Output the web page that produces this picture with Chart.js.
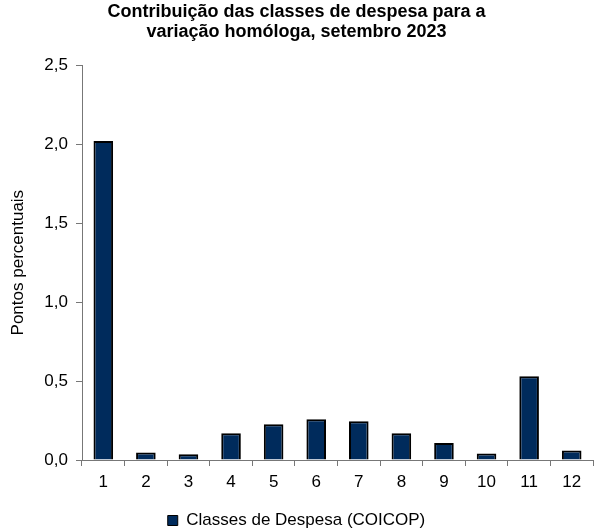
<!DOCTYPE html>
<html>
<head>
<meta charset="utf-8">
<script src="https://cdn.jsdelivr.net/npm/chart.js@4/dist/chart.umd.min.js"></script>
<style>
  html, body { margin: 0; padding: 0; background: #fff; }
  #wrap { width: 612px; height: 529px; }
</style>
</head>
<body>
<div id="wrap"><canvas id="chart" width="612" height="529"></canvas></div>
<script>
const CATEGORIES = ['1','2','3','4','5','6','7','8','9','10','11','12'];
const CONTRIB = [2.02, 0.048, 0.037, 0.17, 0.226, 0.258, 0.245, 0.17, 0.107, 0.041, 0.53, 0.06];
const Y_TICKS = [0, 0.5, 1.0, 1.5, 2.0, 2.5];

const FONT = "'Liberation Sans', Arial, sans-serif";
const NAVY = '#002b5c';

new Chart(document.getElementById('chart').getContext('2d'), {
  type: 'bar',
  data: {
    labels: CATEGORIES,
    datasets: [{
      label: 'Classes de Despesa (COICOP)',
      data: CONTRIB,
      backgroundColor: NAVY,
      borderColor: '#000',
      borderWidth: 2,
      barPercentage: 0.46,
      categoryPercentage: 1.0,
    }]
  },
  options: {
    responsive: false,
    animation: false,
    // legend keeps a 10px gap under itself; negative bottom padding pulls it down
    layout: { padding: { left: 0, right: 19, top: 2, bottom: -10 } },
    plugins: {
      title: {
        display: true,
        text: ['Contribuição das classes de despesa para a', 'variação homóloga, setembro 2023'],
        color: '#000',
        font: { family: FONT, size: 18, weight: 'bold', lineHeight: 1.12 },
        padding: { top: 0, bottom: 23 },
      },
      legend: {
        position: 'bottom',
        labels: {
          color: '#000',
          font: { family: FONT, size: 17 },
          boxWidth: 10,
          boxHeight: 10,
          padding: 0,
          generateLabels: chart => [{
            text: 'Classes de Despesa (COICOP)',
            fillStyle: NAVY,
            strokeStyle: '#000',
            lineWidth: 1,
            datasetIndex: 0,
          }]
        }
      },
      tooltip: { enabled: false }
    },
    scales: {
      x: {
        grid: { display: true, drawOnChartArea: false, drawTicks: true, tickLength: 6, color: '#777', offset: true },
        border: { display: true, color: '#777', width: 1 },
        ticks: { color: '#000', font: { family: FONT, size: 17 }, padding: 6 },
        afterFit: s => { s.height = 52; }
      },
      y: {
        min: 0,
        max: 2.5,
        afterBuildTicks: s => { s.ticks = Y_TICKS.map(v => ({ value: v })); },
        grid: { display: true, drawOnChartArea: false, drawTicks: true, tickLength: 6, color: '#777' },
        border: { display: true, color: '#777', width: 1 },
        ticks: {
          color: '#000',
          font: { family: FONT, size: 17 },
          padding: 8,
          callback: v => v.toFixed(1).replace('.', ',')
        },
        title: {
          display: true,
          text: 'Pontos percentuais',
          color: '#000',
          font: { family: FONT, size: 17 },
          padding: { top: 8, bottom: 8 }
        },
        afterFit: s => { s.width = 82; }
      }
    }
  }
});
</script>
</body>
</html>
